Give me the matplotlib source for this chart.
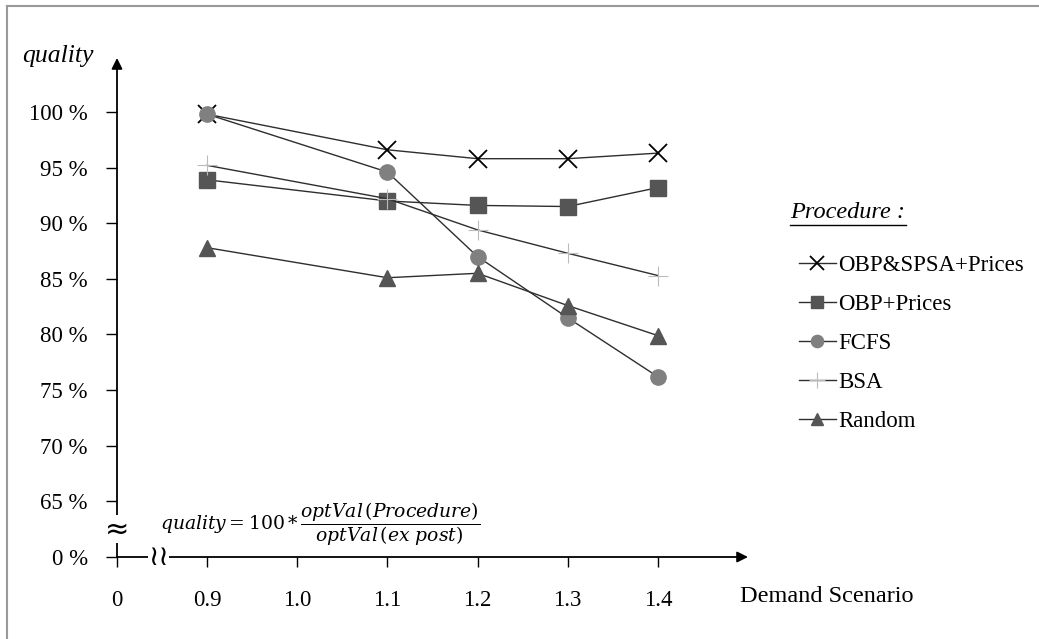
import matplotlib.pyplot as plt
from matplotlib.lines import Line2D

plt.rcParams['font.family'] = ['Liberation Serif', 'DejaVu Serif']
plt.rcParams['mathtext.fontset'] = 'dejavuserif'

# data
scenarios = [0.9, 1.1, 1.2, 1.3, 1.4]
obp_spsa = [99.8, 96.6, 95.8, 95.8, 96.3]
obp_prices = [93.9, 92.0, 91.6, 91.5, 93.2]
fcfs = [99.8, 94.6, 87.0, 81.5, 76.2]
bsa = [95.2, 92.2, 89.4, 87.3, 85.3]
random_proc = [87.8, 85.1, 85.5, 82.6, 79.9]

x_ticks = [0.8, 0.9, 1.0, 1.1, 1.2, 1.3, 1.4]
x_labels = ['0', '0.9', '1.0', '1.1', '1.2', '1.3', '1.4']
y_ticks = [60, 65, 70, 75, 80, 85, 90, 95, 100]
y_labels = ['0 %', '65 %', '70 %', '75 %', '80 %', '85 %', '90 %', '95 %', '100 %']

fig = plt.figure(figsize=(10.39, 6.39), dpi=100)
ax = fig.add_axes([117 / 1039, 1 - 557 / 639, 631 / 1039, 499 / 639])

line_col = '#2e2e2e'
ax.plot(scenarios, obp_spsa, color=line_col, lw=1, marker='x', ms=13, mew=1.3,
        mec='black', label='OBP&SPSA+Prices')
ax.plot(scenarios, obp_prices, color=line_col, lw=1, marker='s', ms=11,
        mfc='#555555', mec='#555555', label='OBP+Prices')
ax.plot(scenarios, fcfs, color=line_col, lw=1, marker='o', ms=11,
        mfc='#808080', mec='#808080', label='FCFS')
ax.plot(scenarios, bsa, color=line_col, lw=1, marker='+', ms=14, mew=0.8,
        mec='#bbbbbb', label='BSA')
ax.plot(scenarios, random_proc, color=line_col, lw=1, marker='^', ms=11,
        mfc='#555555', mec='#555555', label='Random')

ax.set_xlim(0.8, 1.5)
ax.set_ylim(60, 104.85)
for s in ax.spines.values():
    s.set_visible(False)

ax.set_xticks(x_ticks)
ax.set_xticklabels(x_labels)
ax.set_yticks(y_ticks)
ax.set_yticklabels(y_labels)
ax.tick_params(axis='x', direction='out', length=7, width=1, pad=17, labelsize=16.5)
ax.tick_params(axis='y', direction='out', length=8, width=1, pad=13, labelsize=16.5)

# axes with arrows
ax.annotate('', xy=(1.5, 60), xytext=(0.8, 60), xycoords='data',
            arrowprops=dict(arrowstyle='-|>', mutation_scale=16, color='black', lw=1.3,
                            shrinkA=0, shrinkB=0), annotation_clip=False)
ax.annotate('', xy=(0.8, 104.85), xytext=(0.8, 60), xycoords='data',
            arrowprops=dict(arrowstyle='-|>', mutation_scale=16, color='black', lw=1.3,
                            shrinkA=0, shrinkB=0), annotation_clip=False)

# axis breaks
ax.text(0.8, 62.5, '≈', ha='center', va='center', fontsize=21, family='DejaVu Sans',
        bbox=dict(facecolor='white', edgecolor='none', pad=0), clip_on=False)
ax.text(0.846, 60, '≀≀', ha='center', va='center', fontsize=20, family='DejaVu Sans',
        bbox=dict(facecolor='white', edgecolor='none', pad=0), clip_on=False)

# formula
ax.text(0.848, 63.0, r'$quality = 100 * \dfrac{optVal\,(Procedure)}{optVal\,(ex\ post)}$',
        ha='left', va='center', fontsize=13.5)

# labels
fig.text(22 / 1039, 1 - 56 / 639, 'quality', style='italic', fontsize=18.5,
         ha='left', va='center')
fig.text(740 / 1039, 1 - 597 / 639, 'Demand Scenario', fontsize=17.5,
         ha='left', va='center')

# legend
fig.text(790 / 1039, 1 - 212 / 639, 'Procedure :', style='italic', fontsize=17.5,
         ha='left', va='center')
fig.add_artist(Line2D([790 / 1039, 906 / 1039], [1 - 225 / 639, 1 - 225 / 639],
                      color='black', lw=1))
ax.legend(loc='upper left', bbox_to_anchor=(799 / 1039, 1 - 255 / 639),
          bbox_transform=fig.transFigure, frameon=False, fontsize=16.5,
          handlelength=1.6, handletextpad=0.1, labelspacing=0.78, markerscale=0.8,
          borderaxespad=0, borderpad=0)

# frame lines on top and left
fig.add_artist(Line2D([7 / 1039, 1], [1 - 6 / 639, 1 - 6 / 639], color='#999999', lw=1.5))
fig.add_artist(Line2D([7 / 1039, 7 / 1039], [0, 1 - 6 / 639], color='#999999', lw=1.5))

plt.savefig('out.png', dpi=100)
